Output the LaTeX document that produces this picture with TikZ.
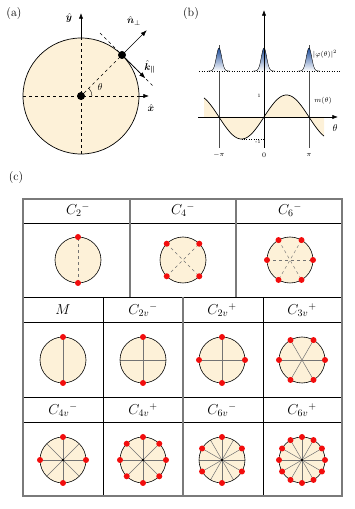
\documentclass[tikz,border=0pt]{standalone}
\usepackage{bm}
\usetikzlibrary{arrows.meta,calc,positioning}
\definecolor{cream}{HTML}{FDF1D8}
\definecolor{peakblue}{HTML}{1F4E9C}
\definecolor{rim}{HTML}{7A7A7A}
\definecolor{spotred}{HTML}{F20D0D}
\tikzset{>=Latex,line width=.6pt,
  every node/.style={font=\small},
  axis/.style={->,draw=black,line width=.6pt},
  guide/.style={draw=black,dashed,line width=.45pt},
  disk/.style={draw=black,fill=cream,line width=.6pt},
  spot/.style={circle,fill=black,inner sep=0pt,minimum size=8pt},
  redspot/.style={fill=spotred},
  spoke/.style={draw=black!55,line width=.5pt},
  spokedash/.style={draw=black!55,dashed,line width=.45pt},
  rimline/.style={draw=rim,line width=1.1pt},
  cellline/.style={draw=black,line width=.5pt},
  panel/.style={font=\large,inner sep=0pt}}
\begin{document}
\begin{tikzpicture}[x=1pt,y=1pt]
\useasboundingbox (0,0) rectangle (354,509);
% (a) disk with edge point
\node[panel] (la) at (14,495) {(a)};
\coordinate (O0) at (81,413);
\fill[cream] (O0) circle (58);
\draw[guide] ($(O0)+(-58,0)$) -- ($(O0)+(58,0)$);\draw[guide] ($(O0)+(0,-58)$) -- ($(O0)+(0,58)$);
\draw[line width=.7pt] (O0) circle (58);
\coordinate (xr) at ($(O0)+(58,0)$);\coordinate (xtip) at ($(O0)+(68,0)$);
\coordinate (yt) at ($(O0)+(0,58)$);\coordinate (ytip) at ($(O0)+(0,83)$);
\draw[axis] (xr) -- (xtip);\draw[axis] (yt) -- (ytip);
\node[spot] (O) at (O0) {};
\node[spot] (P) at ($(O0)+(45:58)$) {};
\draw[guide] (O) -- (P);
\coordinate (tup) at ($(P)+(135:31)$);\coordinate (tdn) at ($(P)+(-45:44)$);
\draw[guide] (tup) -- (P);\draw[guide] (P) -- (tdn);
\coordinate (ntip) at ($(P)+(45:35)$);\coordinate (ktip) at ($(P)+(-45:33)$);
\draw[->,line width=.7pt] (P) -- (ntip);\draw[->,line width=.7pt] (P) -- (ktip);
\draw[line width=.4pt] ($(O0)+(11,0)$) arc (0:45:11);
\node[font=\normalsize] (th) at (100,422) {$\theta$};
\node[font=\normalsize] (ey) at (69,491) {$\hat{\bm y}$};
\node[font=\normalsize] (ex) at (151,401) {$\hat{\bm x}$};
\node[font=\normalsize] (en) at (134,488) {$\hat{\bm n}_\perp$};
\node[font=\normalsize,inner sep=1pt] (ek) at (150,442) {$\hat{\bm k}_{\bm\parallel}$};
% (b) profiles
\node[panel] (lb) at (191,495) {(b)};
\begin{scope}[shift={(264,392)}]
\fill[cream] plot[domain=-60:60,samples=120] (\x,{22*sin(4*\x)}) -- (60,0) -- (-60,0) -- cycle;
\draw[draw=black!70,line width=.5pt] (-45,-31) -- (-45,72);\draw[draw=black!70,line width=.5pt] (45,-31) -- (45,72);
\draw[dotted,line width=.5pt] (-65,46) -- (76,46);
\foreach \c in {-45,0,45}{
  \shade[top color=peakblue,bottom color=white] plot[domain=\c-11:\c+11,samples=40] (\x,{46+23*exp(-((\x-\c)^2)/14)}) -- cycle;
  \draw[line width=.4pt] plot[domain=\c-11:\c+11,samples=40] (\x,{46+23*exp(-((\x-\c)^2)/14)});}
\coordinate (vb) at (0,-31);\coordinate (vt) at (0,107);\coordinate (hl) at (-66,0);\coordinate (hr) at (74,0);
\draw[axis] (vb) -- (vt);\draw[axis] (hl) -- (hr);
\draw[line width=.7pt] plot[domain=-60:60,samples=120] (\x,{22*sin(4*\x)});
\draw[dotted,line width=.4pt] (-22.5,-22) -- (0,-22);
\node[font=\scriptsize] (phi) at (61,63) {$|\varphi(\theta)|^2$};
\node[font=\scriptsize] (mth) at (59,16) {$m(\theta)$};
\node[font=\normalsize] (tha) at (71,-11) {$\theta$};
\node[font=\scriptsize] (mpi) at (-45,-38) {$-\pi$};
\node[font=\scriptsize] (zer) at (0,-38) {$0$};
\node[font=\scriptsize] (ppi) at (45,-38) {$\pi$};
\node[font=\tiny] (one) at (-5,21) {1};
\node[font=\tiny] (mone) at (-6,-25) {-1};
\end{scope}
% (c) symmetry table
\node[panel] (lc) at (16,331) {(c)};
\foreach \yy in {286,212,187,112,87}{\draw[cellline] (23,\yy) -- (342,\yy);}
\draw[cellline] (103,212) -- (103,13);\draw[cellline] (263,212) -- (263,13);
\draw[rimline] (130,310) -- (130,212);\draw[rimline] (236,310) -- (236,212);\draw[rimline] (183,212) -- (183,13);
\draw[rimline] (23,13) rectangle (342,310);
\foreach \cx/\cy/\lab/\n/\ds/\m/\la/\ls [count=\i] in {
  78/249/{C_2{}^-}/2/90/1/90/spokedash, 183/249/{C_4{}^-}/4/45/2/45/spokedash, 290/249/{C_6{}^-}/6/0/3/0/spokedash,
  63/149/{M}/2/90/1/90/spoke, 143/149/{C_{2v}{}^-}/2/90/2/0/spoke, 222/149/{C_{2v}{}^+}/4/0/2/0/spoke, 302/149/{C_{3v}{}^+}/6/0/3/0/spoke,
  63/49/{C_{4v}{}^-}/4/0/4/0/spoke, 143/49/{C_{4v}{}^+}/8/0/4/0/spoke, 222/49/{C_{6v}{}^-}/6/30/6/0/spoke, 302/49/{C_{6v}{}^+}/12/0/6/0/spoke}{
  \node[font=\Large] (h\i) at (\cx,\cy+50) {$\lab$};
  \fill[cream] (\cx,\cy) circle (23);
  \foreach \k in {1,...,\m}{\draw[\ls] ($(\cx,\cy)+({\la+180*\k/\m}:23)$) -- ($(\cx,\cy)+({\la+180*\k/\m+180}:23)$);}
  \draw[line width=.6pt] (\cx,\cy) circle (23);
  \ifnum\m>3 \fill (\cx,\cy) circle (1.4);\fi
  \foreach \k in {1,...,\n}{\fill[redspot] ($(\cx,\cy)+({\ds+360*\k/\n}:23)$) circle (3);}
}
\end{tikzpicture}
\end{document}
